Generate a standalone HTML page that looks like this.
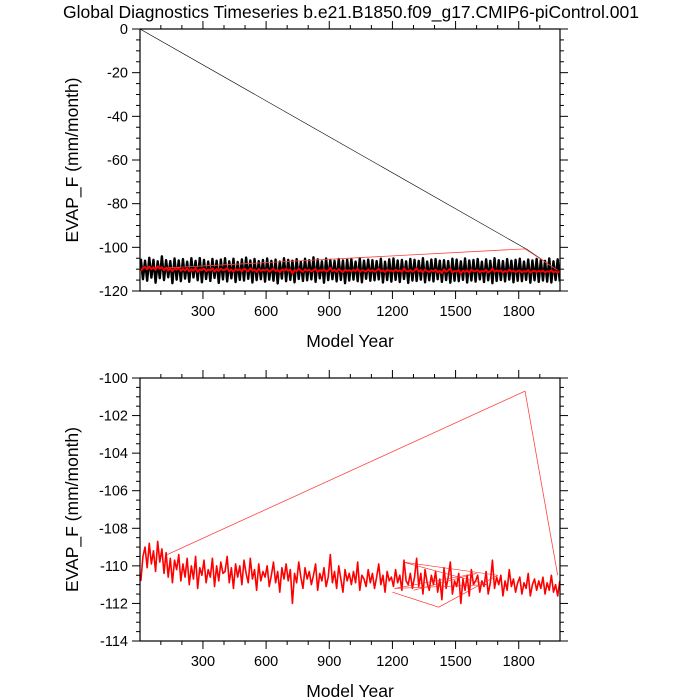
<!DOCTYPE html>
<html><head><meta charset="utf-8"><style>
body{margin:0;background:#fff}
svg{display:block;font-family:"Liberation Sans",sans-serif}
</style></head><body>
<svg id="chart" width="700" height="700">
<text x="351" y="18" text-anchor="middle" font-size="17.5">Global Diagnostics Timeseries b.e21.B1850.f09_g17.CMIP6-piControl.001</text>
</svg>
<script>
const xTicks=[300,600,900,1200,1500,1800];
const topYTicks=[0,-20,-40,-60,-80,-100,-120];
const botYTicks=[-100,-102,-104,-106,-108,-110,-112,-114];
const redVals=[-110.8,-109.5,-109.0,-110.1,-108.8,-109.9,-109.2,-110.3,-108.7,-109.8,
-109.1,-110.4,-109.3,-110.6,-109.6,-110.9,-109.7,-110.2,-109.4,-110.8,
-109.9,-110.6,-109.6,-111.0,-110.0,-110.7,-109.5,-111.2,-110.1,-110.5,
-109.7,-110.9,-110.2,-110.6,-109.6,-111.1,-110.0,-110.8,-109.8,-110.4,
-110.3,-109.5,-110.9,-110.1,-111.2,-109.9,-110.6,-110.0,-111.0,-109.7,
-110.4,-110.9,-109.6,-110.7,-110.2,-111.3,-109.9,-110.8,-110.3,-110.6,
-110.0,-111.1,-110.5,-109.8,-110.9,-110.3,-111.4,-110.1,-110.7,-109.9,
-110.8,-110.2,-112.0,-110.4,-110.9,-109.8,-110.6,-111.2,-110.1,-110.7,
-110.3,-111.0,-110.5,-109.9,-111.3,-110.4,-110.8,-110.1,-111.1,-110.6,
-109.4,-110.9,-110.3,-111.2,-110.0,-110.7,-111.4,-110.2,-110.8,-110.4,
-111.0,-110.3,-110.9,-109.8,-111.3,-110.5,-110.7,-111.1,-110.2,-110.9,
-110.4,-111.2,-110.6,-109.9,-111.0,-110.5,-111.4,-110.3,-110.8,-110.6,
-111.1,-110.2,-110.9,-110.5,-111.3,-109.7,-110.8,-111.0,-110.4,-111.2,
-110.6,-109.6,-111.1,-110.4,-111.5,-110.2,-110.9,-111.3,-110.5,-111.0,
-110.3,-111.4,-110.7,-111.8,-110.1,-111.2,-110.6,-109.8,-111.5,-110.8,
-111.1,-110.4,-112.0,-110.7,-111.3,-110.5,-111.6,-110.2,-111.0,-110.8,
-110.5,-111.4,-110.8,-111.1,-110.3,-111.5,-110.9,-109.7,-111.2,-110.6,
-111.0,-110.5,-111.6,-110.8,-111.3,-110.2,-111.1,-110.7,-111.4,-110.9,
-110.6,-111.5,-110.9,-111.2,-110.4,-111.6,-111.0,-110.7,-111.3,-110.8,
-111.2,-110.6,-111.5,-110.9,-111.3,-110.5,-111.4,-111.0,-111.6,-110.8];
const redStartYear=5, redStepYears=10;
const redJumpYears=[130,1830,1985];
const redJumpVals=[-109.4,-100.7,-110.5];
const redLoopYears=[1200,1420,1700,1250,1650,1210,1600,1300];
const redLoopVals=[-111.4,-112.2,-110.5,-109.8,-111.0,-111.2,-110.4,-111.3];
const blackVals=[-105.2,-114.6,-106.1,-115.3,-104.8,-113.9,-105.7,-116.2,-106.4,-114.1,
-104.1,-115.0,-105.9,-113.7,-106.3,-116.4,-105.1,-114.8,-106.0,-115.5,
-105.4,-114.3,-106.6,-115.8,-105.0,-113.8,-106.2,-115.1,-104.9,-116.0,
-105.8,-114.5,-106.5,-115.4,-105.3,-114.0,-106.1,-116.3,-105.6,-114.7,
-105.0,-115.6,-106.4,-114.2,-105.2,-115.9,-106.7,-114.9,-105.5,-115.2,
-104.7,-114.4,-106.0,-116.1,-105.3,-115.0,-106.3,-114.6,-105.8,-115.7,
-105.1,-114.8,-106.2,-115.3,-105.6,-116.5,-106.5,-114.3,-105.0,-115.5,
-105.7,-114.9,-106.1,-116.0,-105.4,-114.5,-106.6,-115.4,-105.2,-115.1,
-105.9,-114.7,-104.6,-115.8,-105.5,-114.2,-106.4,-116.2,-105.1,-115.0,
-105.8,-114.6,-106.2,-115.6,-105.3,-114.9,-106.0,-116.4,-105.7,-115.2,
-105.4,-114.8,-106.5,-115.5,-105.0,-116.0,-106.1,-114.4,-105.6,-115.3,
-105.9,-115.1,-106.3,-114.7,-105.2,-116.1,-106.6,-115.0,-105.5,-115.7,
-105.1,-114.9,-106.0,-115.9,-105.8,-114.5,-106.4,-116.3,-105.3,-115.2,
-105.7,-115.4,-106.2,-114.8,-105.0,-116.0,-106.5,-115.1,-105.6,-115.6,
-105.4,-114.6,-106.1,-115.8,-105.9,-115.0,-106.3,-116.2,-105.2,-115.3,
-105.6,-115.5,-106.4,-114.9,-105.1,-116.1,-106.0,-115.2,-105.8,-115.7,
-105.3,-114.7,-106.6,-115.9,-105.5,-115.1,-106.2,-116.4,-105.0,-115.4,
-105.9,-115.0,-106.3,-115.6,-105.4,-114.8,-106.1,-116.0,-105.7,-115.3,
-105.2,-115.5,-106.5,-114.9,-105.6,-116.2,-106.0,-115.1,-105.3,-115.8,
-105.8,-115.2,-106.2,-115.7,-105.1,-116.1,-106.4,-115.0,-105.5,-115.6];
const blackStartYear=5, blackStepYears=10;
const blackJumpYears=[1,1840,1985];
const blackJumpVals=[0,-101,-110.5];

const NS="http://www.w3.org/2000/svg";
const svg=document.getElementById('chart');
const X0=140,X1=560,xMin=1,xMax=1996;
function xs(v){return X0+(v-xMin)/(xMax-xMin)*(X1-X0);}
function mk(tag,attrs,parent){const e=document.createElementNS(NS,tag);for(const k in attrs)e.setAttribute(k,attrs[k]);(parent||svg).appendChild(e);return e;}
function panel(name,Y0,Y1,yMin,yMax,yTicks,minorStep){
  const ys=v=>Y1-(v-yMin)/(yMax-yMin)*(Y1-Y0);
  const g=mk('g',{});
  
  
  const clipId=name+'-clip';
  const cp=mk('clipPath',{id:clipId},g);mk('rect',{x:X0,y:Y0,width:X1-X0,height:Y1-Y0},cp);
  const plot=mk('g',{'clip-path':'url(#'+clipId+')'},g);
  for(let t=100;t<=xMax;t+=100){
    const major=t%300===0,len=major?8:4,x=xs(t);
    mk('line',{x1:x,x2:x,y1:Y1,y2:Y1+len,stroke:'#000'},g);
    mk('line',{x1:x,x2:x,y1:Y0,y2:Y0-len,stroke:'#000'},g);
  }
  xTicks.forEach(t=>{const tx=mk('text',{x:xs(t),y:Y1+25,'text-anchor':'middle','font-size':14.5},g);tx.textContent=t;
    
    });
  for(let v=yMin;v<=yMax+1e-9;v+=minorStep){
    const major=yTicks.some(t=>Math.abs(t-v)<1e-6),len=major?8:4,y=ys(v);
    mk('line',{x1:X0-len,x2:X0,y1:y,y2:y,stroke:'#000'},g);
    mk('line',{x1:X1,x2:X1+len,y1:y,y2:y,stroke:'#000'},g);
  }
  yTicks.forEach(t=>{const tx=mk('text',{x:X0-12,y:ys(t)+5,'text-anchor':'end','font-size':14.5},g);tx.textContent=t;
    
    });
  const xl=mk('text',{x:350,y:Y1+56,'text-anchor':'middle','font-size':17.5},g);xl.textContent='Model Year';
  
  
  const yc=(Y0+Y1)/2;
  const yl=mk('text',{x:78,y:yc,'text-anchor':'middle','font-size':17.5,transform:'rotate(-90 78 '+yc+')'},g);yl.textContent='EVAP_F (mm/month)';
  
  
  return {plot,ys,g,Y0,Y1};
}
function line(parent,years,vals,ys,color,w,name){
  const d=years.map((yr,i)=>(i?'L':'M')+xs(yr).toFixed(2)+' '+ys(vals[i]).toFixed(2)).join('');
  const p=mk('path',{d,fill:'none',stroke:color,'stroke-width':w,'stroke-linejoin':'round'},parent);
  
  
}
const redYears=redVals.map((_,i)=>redStartYear+i*redStepYears);
const blackYears=blackVals.map((_,i)=>blackStartYear+i*blackStepYears);
const A=panel('top-panel',29,291,-120,0,topYTicks,5);
line(A.plot,blackYears,blackVals,A.ys,'#000',2.4,'black-series');
line(A.plot,blackJumpYears,blackJumpVals,A.ys,'#000',0.6,'black-jump-line');
line(A.plot,redYears,redVals,A.ys,'#f00',2,'red-series');
line(A.plot,redJumpYears,redJumpVals,A.ys,'#f44',0.8,'red-jump-line');
const B=panel('bottom-panel',378,641,-114,-100,botYTicks,0.5);
line(B.plot,redYears,redVals,B.ys,'#f00',1.6,'red-series-zoom');
line(B.plot,redJumpYears,redJumpVals,B.ys,'#f44',0.8,'red-jump-line-zoom');
line(B.plot,redLoopYears,redLoopVals,B.ys,'#f22',0.6,'red-loop-lines');
[A,B].forEach(P=>{const r=mk('rect',{x:X0,y:P.Y0,width:X1-X0,height:P.Y1-P.Y0,fill:'none',stroke:'#000','stroke-width':1.2},P.g);
  
  });
</script>
</body></html>
